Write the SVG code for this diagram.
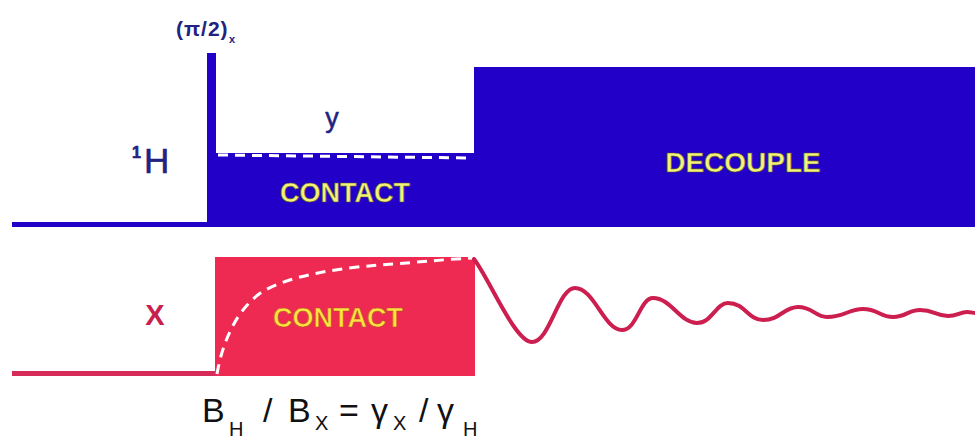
<svg xmlns="http://www.w3.org/2000/svg" width="975" height="439" viewBox="0 0 975 439">
  <style>
    text { font-family: "Liberation Sans", Arial, sans-serif; }
    .blue { fill: #2300C8; }
    .red { fill: #EE2A52; }
    .lbl-y { fill: #F4F27A; font-weight: bold; text-anchor: middle; stroke: #5a5a20; stroke-width: 0.6; }
    .lbl-r { fill: #FFE040; font-weight: bold; text-anchor: middle; stroke: #b05020; stroke-width: 0.6; }
    .dash { fill: none; stroke: #ffffff; stroke-width: 3; stroke-dasharray: 10 7; }
    .navy { fill: #222280; }
  </style>
  <rect width="975" height="439" fill="#ffffff"/>

  <g id="proton-channel">
    <rect class="blue" x="12" y="222" width="200" height="5"/>
    <rect class="blue" x="207" y="53" width="9" height="174"/>
    <rect class="blue" x="207" y="153" width="268" height="74"/>
    <rect class="blue" x="474" y="67" width="501" height="160"/>
    <line class="dash" x1="218" y1="155" x2="472" y2="158"/>
    <text x="332" y="127" font-size="27" fill="#222280" text-anchor="middle" stroke="#222280" stroke-width="0.5">y</text>
    <text class="lbl-y" x="345" y="202" font-size="27">CONTACT</text>
    <text class="lbl-y" x="743" y="172" font-size="28">DECOUPLE</text>
  </g>

  <g id="proton-label" stroke="#222280" stroke-width="0.6">
    <text class="navy" x="132" y="158" font-size="16" font-weight="bold">1</text>
    <text class="navy" x="144" y="173" font-size="35">H</text>
  </g>

  <g id="pulse-label">
    <text class="navy" x="176" y="36" font-size="21" font-weight="bold" letter-spacing="1">(π/2)</text>
    <text class="navy" x="229" y="43" font-size="11" font-weight="bold">x</text>
  </g>

  <g id="x-channel">
    <rect x="12" y="371" width="206" height="5" fill="#D62A58"/>
    <rect class="red" x="215" y="257" width="260" height="119"/>
    <text class="lbl-r" x="338" y="327" font-size="27">CONTACT</text>
  </g>

  <g id="x-label">
    <text x="155" y="325" font-size="29" font-weight="bold" fill="#C8204E" text-anchor="middle">X</text>
  </g>

  <g id="connectors">
    <path class="dash" d="M217,374 C222,345 235,310 262,292 C290,275 340,268 380,265 C420,262 450,259 473,258"/>
    <path fill="none" stroke="#CC1F4F" stroke-width="4" stroke-linecap="round"
      d="M474,259 C490,280 515,342 532,342 C550,342 558,288 575,288 C594,288 604,330 622,330 C637,330 640,298 653,298 C671,298 680,323 697,323 C712,323 716,303 728,303 C745,303 748,320 763,320 C780,320 784,307 798,307 C813,307 815,317 827,317 C845,317 848,309 863,309 C878,309 880,317 893,317 C906,317 908,310 920,310 C934,310 936,316 948,316 C957,316 960,312 967,312 C971,312 973,313 975,313"/>
  </g>

  <g id="equation" fill="#111111">
    <text x="202" y="422" font-size="34">B</text>
    <text x="229" y="436" font-size="20">H</text>
    <text x="263" y="422" font-size="34">/</text>
    <text x="288" y="422" font-size="34">B</text>
    <text x="315" y="430" font-size="20">X</text>
    <text x="339" y="422" font-size="34">=</text>
    <text x="371" y="422" font-size="34">γ</text>
    <text x="393" y="430" font-size="20">X</text>
    <text x="419" y="422" font-size="34">/</text>
    <text x="437" y="422" font-size="34">γ</text>
    <text x="463" y="436" font-size="20">H</text>
  </g>
</svg>
